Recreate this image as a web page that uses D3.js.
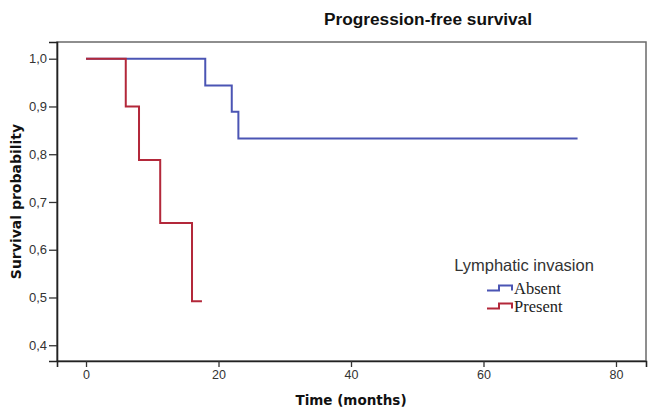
<!DOCTYPE html>
<html>
<head>
<meta charset="utf-8">
<script src="https://cdn.jsdelivr.net/npm/d3@7"></script>
<style>
  body { margin: 0; background: #fff; }
  svg { display: block; }
</style>
</head>
<body>
<script>
// Kaplan-Meier steps
var groups = ["Absent", "Present"];
var absentTimes = [0, 18, 22, 23, 74.2];
var absentSurv = [1.0, 0.944, 0.889, 0.833, 0.833];
var presentTimes = [0, 6, 8, 11.2, 16, 17.5];
var presentSurv = [1.0, 0.9, 0.788, 0.656, 0.492, 0.492];
var xTicks = [0, 20, 40, 60, 80];
var yTicks = [0.4, 0.5, 0.6, 0.7, 0.8, 0.9, 1.0];

var W = 656, H = 412;
var margin = {top: 42, right: 10, bottom: 51, left: 57},
    width = W - margin.left - margin.right,
    height = H - margin.top - margin.bottom;

var svg = d3.select("body").append("svg")
    .attr("width", W)
    .attr("height", H);

var g = svg.append("g")
    .attr("transform", "translate(" + margin.left + "," + margin.top + ")");

var x = d3.scaleLinear().domain([-4.38, 84.53]).range([0, width]);
var y = d3.scaleLinear().domain([0.367, 1.035]).range([height, 0]);

var color = d3.scaleOrdinal().domain(groups).range(["#4b55b4", "#b3283a"]);

// frame
g.append("rect")
    .attr("width", width)
    .attr("height", height)
    .attr("fill", "none")
    .attr("stroke", "#6a6a6a")
    .attr("stroke-width", 1.5);

var fmt = function(d) { return d3.format(".1f")(d).replace(".", ","); };

var yAxis = g.append("g")
    .call(d3.axisLeft(y).tickValues(yTicks).tickFormat(fmt).tickSize(8).tickPadding(2));
var xAxis = g.append("g")
    .attr("transform", "translate(0," + height + ")")
    .call(d3.axisBottom(x).tickValues(xTicks).tickSize(6).tickPadding(3));

[xAxis, yAxis].forEach(function(a) {
  a.select(".domain").attr("stroke", "#222").attr("stroke-width", 1.6);
  a.selectAll(".tick line").attr("stroke", "#333").attr("stroke-width", 1.3);
  a.selectAll(".tick text")
    .attr("fill", "#333")
    .style("font-family", "Liberation Sans, Arial, sans-serif");
});
yAxis.selectAll(".tick text").style("font-size", "13px");
xAxis.selectAll(".tick text").style("font-size", "12.5px");

var line = d3.line()
    .x(function(d) { return x(d[0]); })
    .y(function(d) { return y(d[1]); })
    .curve(d3.curveStepAfter);

var series = [
  {name: "Absent", pts: d3.zip(absentTimes, absentSurv)},
  {name: "Present", pts: d3.zip(presentTimes, presentSurv)}
];

g.selectAll(".km")
    .data(series)
  .enter().append("path")
    .attr("class", "km")
    .attr("d", function(d) { return line(d.pts); })
    .attr("fill", "none")
    .attr("stroke", function(d) { return color(d.name); })
    .attr("stroke-width", 2);

// titles
svg.append("text")
    .attr("x", 428).attr("y", 24.5)
    .attr("text-anchor", "middle")
    .attr("textLength", 208)
    .attr("lengthAdjust", "spacingAndGlyphs")
    .style("font-family", "Liberation Sans, Arial, sans-serif")
    .style("font-size", "16px").style("font-weight", "bold")
    .attr("fill", "#111")
    .text("Progression-free survival");

svg.append("text")
    .attr("x", 351).attr("y", 405)
    .attr("text-anchor", "middle")
    .style("font-family", "DejaVu Sans, Verdana, sans-serif")
    .style("font-size", "13.5px").style("font-weight", "bold")
    .attr("fill", "#111")
    .text("Time (months)");

svg.append("text")
    .attr("transform", "translate(20.5," + (margin.top + height / 2) + ") rotate(-90)")
    .attr("text-anchor", "middle")
    .style("font-family", "DejaVu Sans, Verdana, sans-serif")
    .style("font-size", "14px").style("font-weight", "bold")
    .attr("fill", "#111")
    .text("Survival probability");

// legend
var legend = svg.append("g");
legend.append("text")
    .attr("x", 524).attr("y", 270.5)
    .attr("text-anchor", "middle")
    .style("font-family", "Liberation Sans, Arial, sans-serif")
    .style("font-size", "16.5px")
    .attr("fill", "#333")
    .text("Lymphatic invasion");

var symLine = d3.line().curve(d3.curveStepAfter);
var items = legend.selectAll(".item")
    .data(groups)
  .enter().append("g")
    .attr("class", "item")
    .attr("transform", function(d, i) { return "translate(0," + (i * 18) + ")"; });

items.append("path")
    .attr("d", symLine([[487, 290.5], [499, 285.5], [512, 290.5]]))
    .attr("fill", "none")
    .attr("stroke", function(d) { return color(d); })
    .attr("stroke-width", 2);

items.append("text")
    .attr("x", 514).attr("y", 294)
    .style("font-family", "Liberation Serif, Times New Roman, serif")
    .style("font-size", "16.5px")
    .attr("fill", "#222")
    .text(function(d) { return d; });
</script>
</body>
</html>
